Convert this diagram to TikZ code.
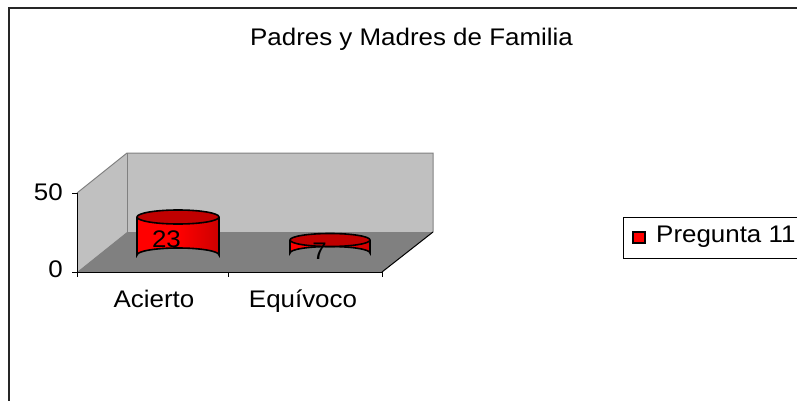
\documentclass[tikz,border=0pt]{standalone}
\usepackage{fontspec}
\setmainfont{Liberation Sans}
\definecolor{wallgray}{HTML}{C0C0C0}
\definecolor{floorgray}{HTML}{808080}
\definecolor{edgegray}{HTML}{808080}
\definecolor{topred}{HTML}{C00000}
\begin{document}
\begin{tikzpicture}[x=1pt,y=-1pt,
  lbl/.style={font=\fontsize{24}{28}\selectfont, inner sep=0pt, xscale=1.08, transform shape},
  axisline/.style={line width=1pt, black},
  edgeline/.style={line width=1pt, edgegray},
  cylout/.style={draw=black, line width=1.6pt},
  frameline/.style={line width=1.5pt, black!85}]
\useasboundingbox (0,0) rectangle (797,401);
\fill[white] (0,0) rectangle (797,401);
% outer frame
\draw[frameline] (9,401) -- (9,8) -- (797,8);
% walls and floor
\coordinate (bwtl) at (127,153);
\coordinate (bwtr) at (433,153);
\coordinate (bwbr) at (433,232);
\coordinate (bwbl) at (127,232);
\coordinate (lwtf) at (77,193);
\coordinate (flf) at (77,272);
\coordinate (frf) at (382,272);
\fill[wallgray] (bwtl) -- (bwtr) -- (bwbr) -- (bwbl) -- cycle;
\fill[wallgray] (lwtf) -- (bwtl) -- (bwbl) -- (flf) -- cycle;
\fill[floorgray] (flf) -- (bwbl) -- (bwbr) -- (frf) -- cycle;
\draw[edgeline] (lwtf) -- (bwtl) -- (bwtr) -- (bwbr);
\draw[edgeline] (bwtl) -- (bwbl);
\draw[axisline] (frf) -- (bwbr);
% axes
\draw[axisline] (lwtf) -- (flf) -- (frf);
\draw[axisline] (72,193) -- (lwtf);
\draw[axisline] (72,272) -- (flf);
\draw[axisline] (77,272) -- (77,277);
\draw[axisline] (228,272) -- (228,277);
\draw[axisline] (382,272) -- (382,277);
% cylinder 1 (23)
\fill[left color=red, right color=red!80!black, middle color=red]
  (137,217) -- (137,255) arc[start angle=180,end angle=360,x radius=41,y radius=7]
  -- (219,217) arc[start angle=0,end angle=-180,x radius=41,y radius=7] -- cycle;
\draw[cylout] (137,217) -- (137,255) arc[start angle=180,end angle=360,x radius=41,y radius=7] -- (219,217);
\filldraw[cylout, fill=topred] (178,217) ellipse[x radius=41,y radius=7];
% cylinder 2 (7)
\fill[left color=red, right color=red!80!black, middle color=red]
  (290,240) -- (290,253) arc[start angle=180,end angle=360,x radius=40,y radius=6.5]
  -- (370,240) arc[start angle=0,end angle=-180,x radius=40,y radius=6.5] -- cycle;
\draw[cylout] (290,240) -- (290,253) arc[start angle=180,end angle=360,x radius=40,y radius=6.5] -- (370,240);
\filldraw[cylout, fill=topred] (330,240) ellipse[x radius=40,y radius=6.5];
% texts
\node[lbl, anchor=base] (title) at (411.5,46) {Padres y Madres de Familia};
\node[lbl, anchor=base east] (t50) at (63,200) {50};
\node[lbl, anchor=base east] (t0) at (63,277) {0};
\node[lbl, anchor=base] (cat1) at (154,307) {Acierto};
\node[lbl, anchor=base] (cat2) at (303,307) {Equívoco};
\node[lbl, anchor=base] (v1) at (166.5,247) {23};
\node[lbl, anchor=base] (v2) at (319.5,259) {7};
% legend
\draw[line width=1pt, black] (797,217) -- (623,217) -- (623,258) -- (797,258);
\filldraw[fill=red, draw=black, line width=1.2pt] (633,232) rectangle (645,243);
\node[lbl, anchor=base west] (leg) at (656,242) {Pregunta 11};
\end{tikzpicture}
\end{document}
